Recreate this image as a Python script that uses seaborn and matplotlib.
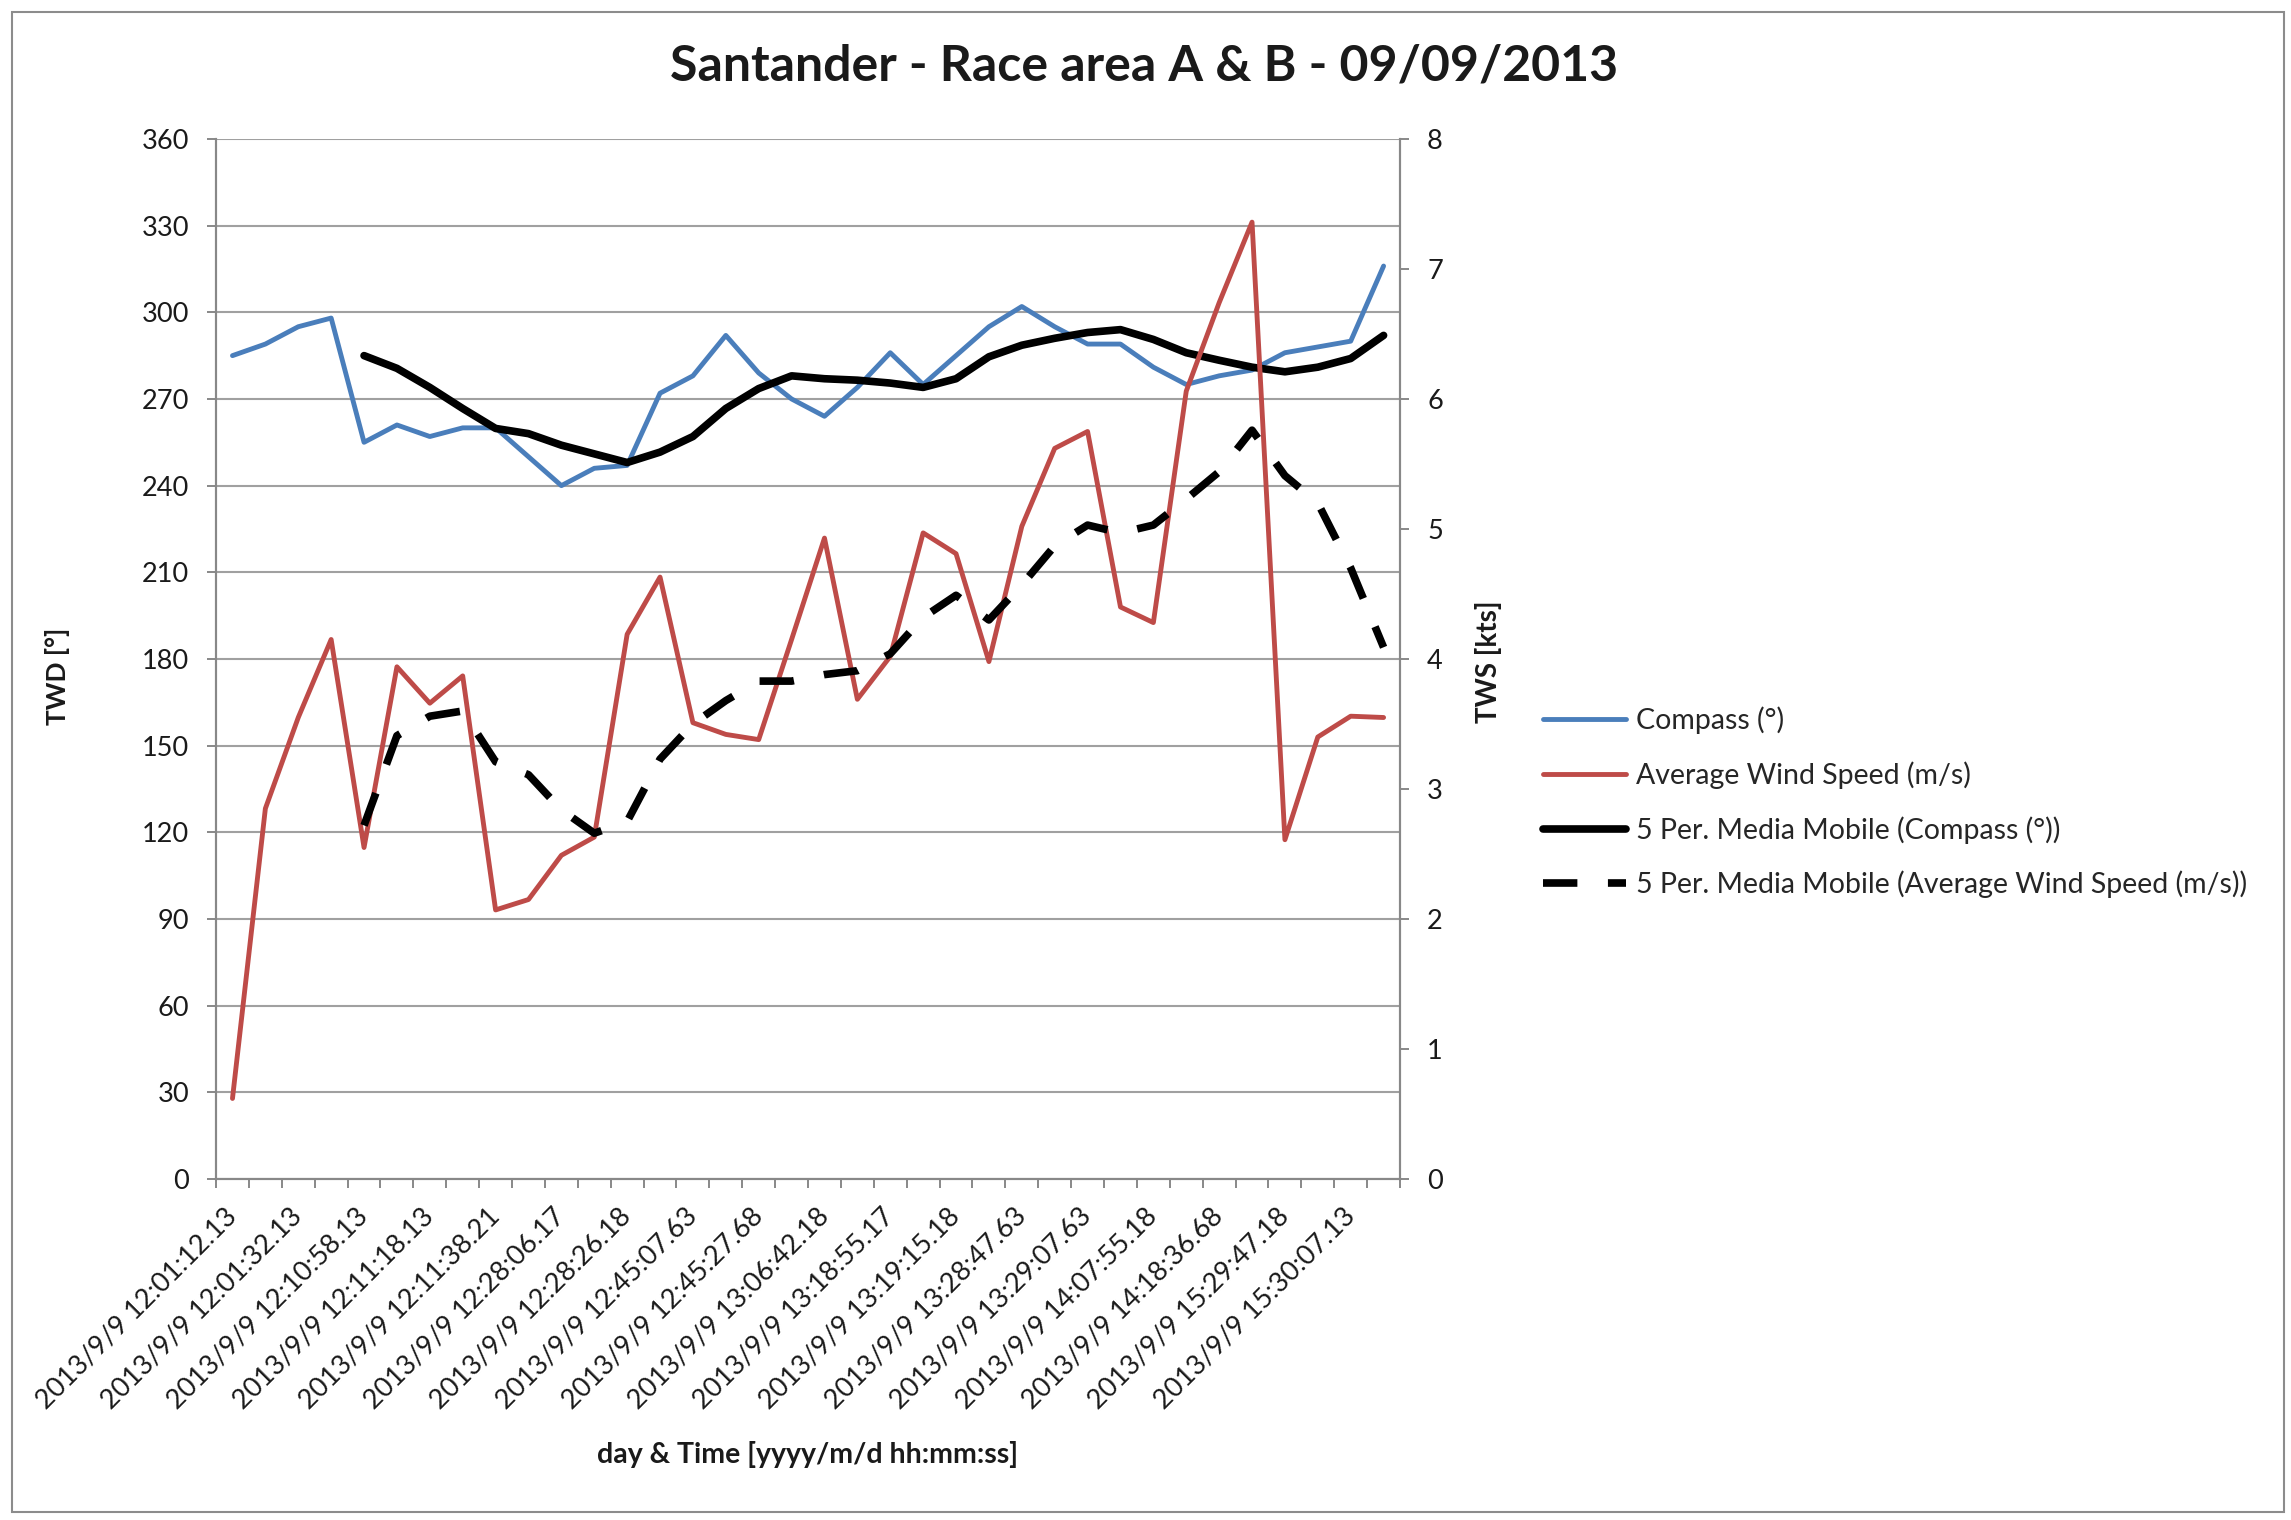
import numpy as np
import matplotlib
matplotlib.use("Agg")
import matplotlib.pyplot as plt
from matplotlib.patches import Rectangle
import seaborn as sns

# x axis: 36 samples, only every second time stamp is printed
n_samples = 36
time_labels = ["2013/9/9 12:01:12.13", "2013/9/9 12:01:32.13", "2013/9/9 12:10:58.13",
               "2013/9/9 12:11:18.13", "2013/9/9 12:11:38.21", "2013/9/9 12:28:06.17",
               "2013/9/9 12:28:26.18", "2013/9/9 12:45:07.63", "2013/9/9 12:45:27.68",
               "2013/9/9 13:06:42.18", "2013/9/9 13:18:55.17", "2013/9/9 13:19:15.18",
               "2013/9/9 13:28:47.63", "2013/9/9 13:29:07.63", "2013/9/9 14:07:55.18",
               "2013/9/9 14:18:36.68", "2013/9/9 15:29:47.18", "2013/9/9 15:30:07.13"]

# TWD [deg], left axis
compass = [285, 289, 295, 298, 255, 261, 257, 260, 260, 250, 240, 246,
           247, 272, 278, 292, 279, 270, 264, 274, 286, 275, 285, 295,
           302, 295, 289, 289, 281, 275, 278, 280, 286, 288, 290, 316]

# TWS [kts], right axis
wind_speed = [0.62, 2.85, 3.55, 4.15, 2.55, 3.94, 3.66, 3.87, 2.07, 2.15, 2.49, 2.63,
              4.19, 4.63, 3.51, 3.42, 3.38, 4.15, 4.93, 3.69, 4.02, 4.97, 4.81, 3.98,
              5.02, 5.62, 5.75, 4.40, 4.28, 6.06, 6.74, 7.36, 2.61, 3.40, 3.56, 3.55]

# 5 period moving averages, they start at the 5th sample
compass_ma = [285, 280.6, 274, 266.7, 259.8, 258, 254, 251, 248, 251.6, 257, 266.7,
              273.6, 278, 277, 276.5, 275.5, 274, 277, 284.6, 288.6, 291, 293, 294,
              290.6, 286, 283.4, 281, 279.4, 281, 284, 292]
wind_ma = [2.72, 3.41, 3.56, 3.60, 3.21, 3.11, 2.84, 2.66, 2.75, 3.23, 3.50, 3.68,
           3.83, 3.83, 3.88, 3.91, 4.04, 4.32, 4.49, 4.30, 4.57, 4.87, 5.03, 4.97,
           5.03, 5.23, 5.44, 5.76, 5.41, 5.20, 4.70, 4.09]

sns.set_theme(style="white")
plt.rcParams['font.family'] = ['Lato', 'DejaVu Sans']

blue = '#4a7ebb'
red = '#be4b48'
grid_col = '#a0a0a0'
axis_col = '#888888'
txt_col = '#1a1a1a'

fig = plt.figure(figsize=(22.91, 15.2), dpi=100)
ax = fig.add_axes([0.0943, 0.2243, 0.5168, 0.6843])
ax2 = ax.twinx()

sample = np.arange(n_samples)
ma_sample = sample[4:]

sns.lineplot(x=sample, y=compass, ax=ax, color=blue, linewidth=3.5,
             label="Compass (°)")
sns.lineplot(x=ma_sample, y=compass_ma, ax=ax, color='black', linewidth=5.5,
             label="5 Per. Media Mobile (Compass (°))")
sns.lineplot(x=sample, y=wind_speed, ax=ax2, color=red, linewidth=3.5,
             label="Average Wind Speed (m/s)")
sns.lineplot(x=ma_sample, y=wind_ma, ax=ax2, color='black', linewidth=5.5,
             linestyle=(0, (4.5, 4)),
             label="5 Per. Media Mobile (Average Wind Speed (m/s))")

# axes limits / ticks
ax.set_xlim(-0.5, n_samples - 0.5)
ax.set_ylim(0, 360)
ax.set_yticks(np.arange(0, 361, 30))
ax2.set_ylim(0, 8)
ax2.set_yticks(np.arange(0, 9, 1))

ax.set_xticks(np.arange(0, n_samples, 2))
ax.set_xticklabels(time_labels, rotation=45, ha='right', va='center',
                   rotation_mode='anchor')
ax.set_xticks(np.arange(-0.5, n_samples, 1), minor=True)
ax.tick_params(axis='x', which='major', length=0, pad=24, labelsize=19.5,
               labelcolor=txt_col)
ax.tick_params(axis='x', which='minor', bottom=True, length=6.5, width=1.4,
               color=axis_col, direction='out')
ax.tick_params(axis='y', left=True, length=6.5, width=1.4, color=axis_col,
               direction='out', pad=13, labelsize=19.5, labelcolor=txt_col)
ax2.tick_params(axis='y', right=True, length=6.5, width=1.4, color=axis_col,
                direction='out', pad=13, labelsize=19.5, labelcolor=txt_col)

ax.yaxis.grid(True, color=grid_col, linewidth=1.5)
ax.xaxis.grid(False)
ax2.grid(False)
ax.set_axisbelow(True)

for a in (ax, ax2):
    a.spines['top'].set_visible(False)
    for s in ('left', 'right', 'bottom'):
        a.spines[s].set_color(axis_col)
        a.spines[s].set_linewidth(1.5)

# axis titles
ax.set_ylabel("TWD [°]", fontsize=19, fontweight='bold', color=txt_col)
ax.yaxis.set_label_coords(-0.1233, 0.483)
ax2.set_ylabel("TWS [kts]", fontsize=20, fontweight='bold', color=txt_col)
ax2.yaxis.set_label_coords(1.0633, 0.497)
ax.set_xlabel("day & Time [yyyy/m/d hh:mm:ss]", fontsize=20.5, fontweight='bold',
              color=txt_col, va='center')
ax.xaxis.set_label_coords(0.5, -0.2644)

fig.text(0.4995, 0.9566, "Santander - Race area A & B - 09/09/2013", fontsize=36,
         fontweight='bold', ha='center', va='center', color=txt_col)

# legend on the right, series order as in the source
h1, l1 = ax.get_legend_handles_labels()
h2, l2 = ax2.get_legend_handles_labels()
ax.get_legend().remove()
ax2.get_legend().remove()
handles = [h1[0], h2[0], h1[1], h2[1]]
labels = [l1[0], l2[0], l1[1], l2[1]]
fig.legend(handles, labels, loc='upper left', bbox_to_anchor=(0.6735, 0.535),
           frameon=False, fontsize=20.5, handlelength=2.9, handletextpad=0.35,
           labelspacing=0.95, borderpad=0, borderaxespad=0)

# outer chart border
fig.patches.append(Rectangle((12 / 2291, 8 / 1520), 2272 / 2291, 1500 / 1520,
                             transform=fig.transFigure, fill=False,
                             edgecolor='#8c8c8c', linewidth=1.5))

fig.savefig("out.png", dpi=100)
